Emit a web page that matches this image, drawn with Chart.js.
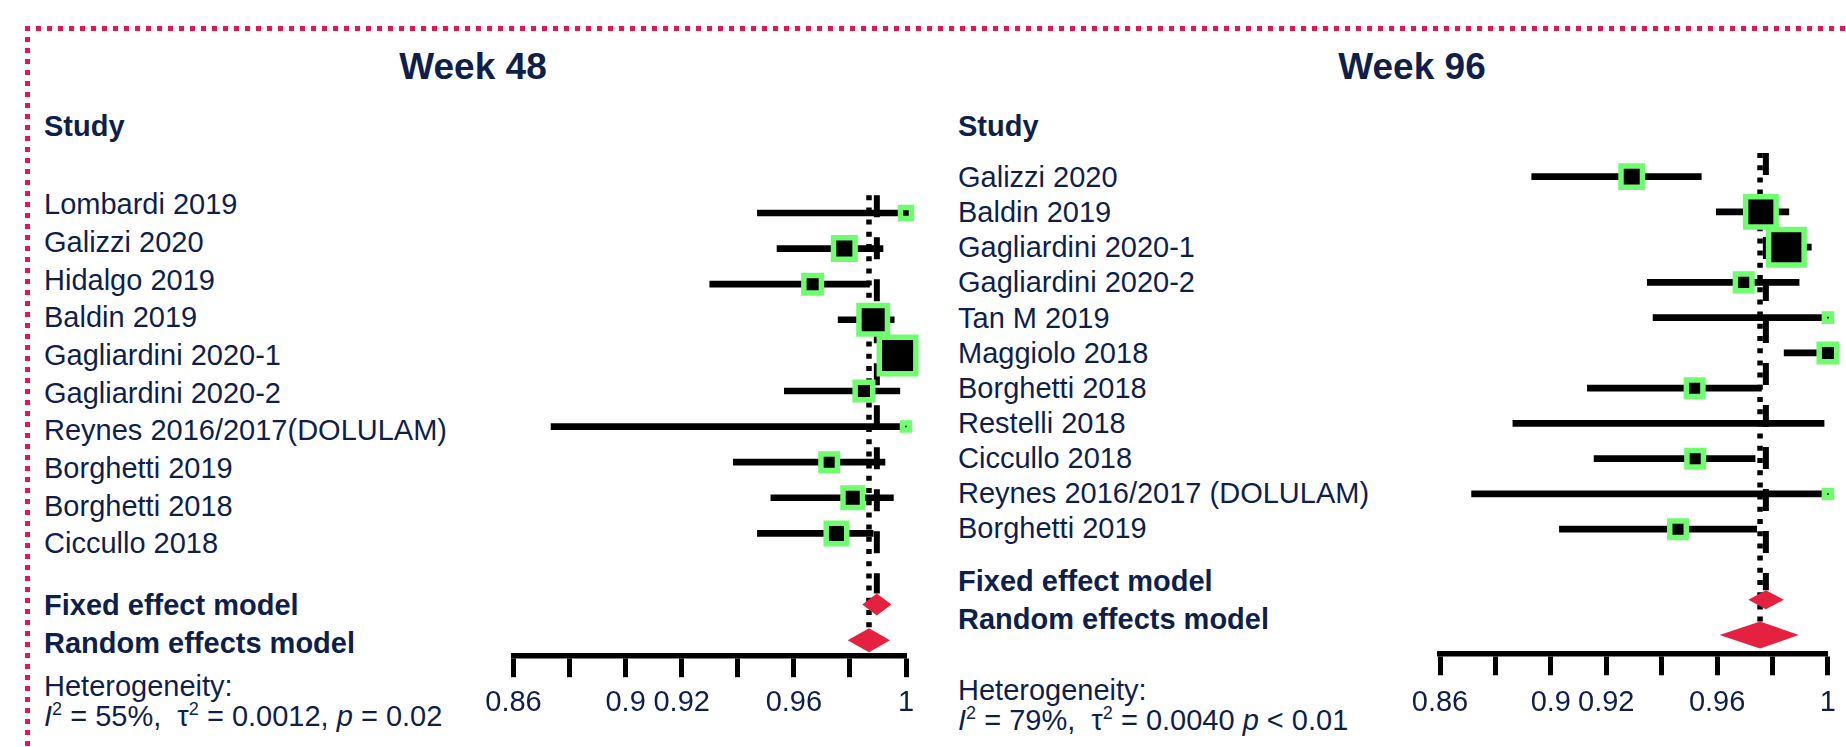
<!DOCTYPE html>
<html>
<head>
<meta charset="utf-8">
<script src="https://cdn.jsdelivr.net/npm/chart.js@4.4.1/dist/chart.umd.min.js"></script>
<style>
html,body{margin:0;padding:0;background:#fff;}
body{width:1846px;height:747px;position:relative;overflow:hidden;font-family:'Liberation Sans',Arial,Helvetica,sans-serif;color:#0F1F4A;}
.frame-top{position:absolute;left:25px;top:26px;width:1821px;height:5px;background:repeating-linear-gradient(to right,#E8134F 0 5.5px,transparent 5.5px 11px);}
.frame-left{position:absolute;left:25px;top:26px;width:5px;height:721px;background:repeating-linear-gradient(to bottom,#E8134F 0 5px,transparent 5px 11px);}
.title{position:absolute;width:400px;text-align:center;font-weight:bold;font-size:37px;line-height:50px;top:41.7px;white-space:nowrap;}
.txt{position:absolute;font-size:29px;line-height:40px;white-space:nowrap;}
.b{font-weight:bold;}
.list{position:absolute;font-size:29px;white-space:nowrap;}
sup{font-size:18px;line-height:0;vertical-align:11px;}
.cv{position:absolute;}
</style>
</head>
<body>
<div class="frame-top"></div>
<div class="frame-left"></div>

<div class="title" style="left:273px;">Week 48</div>
<div class="title" style="left:1212px;">Week 96</div>

<div class="txt b" style="left:44px;top:106px;">Study</div>
<div class="list" id="list48" style="left:44px;top:186.15px;line-height:37.7px;"></div>
<div class="txt b" id="fixed48" style="left:44px;top:585px;"></div>
<div class="txt b" id="random48" style="left:44px;top:623px;"></div>
<div class="txt" style="left:44px;top:666px;">Heterogeneity:</div>
<div class="txt" style="left:44px;top:696px;"><i>I</i><sup>2</sup> = 55%,&nbsp; τ<sup>2</sup> = 0.0012, <i>p</i> = 0.02</div>

<div class="txt b" style="left:958px;top:106px;">Study</div>
<div class="list" id="list96" style="left:958px;top:159.9px;line-height:35.15px;"></div>
<div class="txt b" id="fixed96" style="left:958px;top:561px;"></div>
<div class="txt b" id="random96" style="left:958px;top:599px;"></div>
<div class="txt" style="left:958px;top:670px;">Heterogeneity:</div>
<div class="txt" style="left:958px;top:700px;"><i>I</i><sup>2</sup> = 79%,&nbsp; τ<sup>2</sup> = 0.0040 <i>p</i> &lt; 0.01</div>

<canvas class="cv" id="c48" width="480" height="597" style="left:470px;top:150px;width:480px;height:597px;"></canvas>
<canvas class="cv" id="c96" width="446" height="637" style="left:1400px;top:110px;width:446px;height:637px;"></canvas>

<script>
// ---------- data ----------
const tickValues = [0.86, 0.88, 0.90, 0.92, 0.94, 0.96, 0.98, 1.00];
const tickLabels = ['0.86', '', '0.9', '0.92', '', '0.96', '', '1'];
const pooledNames = ['Fixed effect model', 'Random effects model'];

// Week 48
const studies48 = ['Lombardi 2019', 'Galizzi 2020', 'Hidalgo 2019', 'Baldin 2019', 'Gagliardini 2020-1',
  'Gagliardini 2020-2', 'Reynes 2016/2017(DOLULAM)', 'Borghetti 2019', 'Borghetti 2018', 'Ciccullo 2018'];
const est48    = [1.000, 0.978, 0.9667, 0.9883, 0.997, 0.985, 1.000, 0.9726, 0.981, 0.9752];
const lower48  = [0.947, 0.954, 0.930, 0.9758, 0.9905, 0.9566, 0.8734, 0.9384, 0.9518, 0.947];
const upper48  = [1.000, 0.9918, 0.987, 0.9958, 1.000, 0.9978, 1.000, 0.9925, 0.9955, 0.9883];
const weight48 = [2.7, 10.4, 6.9, 18.2, 29.9, 6.9, 1.1, 6.1, 8.5, 9.4];
const pooledEst48   = [0.9896, 0.9868];
const pooledLower48 = [0.9844, 0.9792];
const pooledUpper48 = [0.9948, 0.9943];

// Week 96
const studies96 = ['Galizzi 2020', 'Baldin 2019', 'Gagliardini 2020-1', 'Gagliardini 2020-2', 'Tan M 2019',
  'Maggiolo 2018', 'Borghetti 2018', 'Restelli 2018', 'Ciccullo 2018', 'Reynes 2016/2017 (DOLULAM)', 'Borghetti 2019'];
const est96    = [0.9292, 0.9758, 0.985, 0.9696, 1.000, 1.000, 0.9519, null, 0.9521, 1.000, 0.9459];
const lower96  = [0.8931, 0.9597, 0.977, 0.9348, 0.9369, 0.9842, 0.9132, 0.8863, 0.9156, 0.8714, 0.9031];
const upper96  = [0.9543, 0.9859, 0.994, 0.9896, 1.000, 1.000, 0.976, 0.9986, 0.9737, 1.000, 0.9743];
const weight96 = [11.1, 22.4, 30.4, 6.6, 1.2, 7.4, 6.6, 0, 6.6, 1.2, 6.6];
const pooledEst96   = [0.9776, 0.9755];
const pooledLower96 = [0.9713, 0.9609];
const pooledUpper96 = [0.9841, 0.9895];

// ---------- text ----------
function fillList(id, names) {
  const el = document.getElementById(id);
  names.forEach(n => { const d = document.createElement('div'); d.textContent = n; el.appendChild(d); });
}
fillList('list48', studies48);
fillList('list96', studies96);
document.getElementById('fixed48').textContent = pooledNames[0];
document.getElementById('random48').textContent = pooledNames[1];
document.getElementById('fixed96').textContent = pooledNames[0];
document.getElementById('random96').textContent = pooledNames[1];

// ---------- chart ----------
const FONT = "'Liberation Sans', Arial, Helvetica, sans-serif";
const NAVY = '#0F1F4A';
const GREEN = '#6FFC6F';
const RED = '#E4213F';

const forestPlugin = {
  id: 'forest',
  beforeDatasetsDraw(chart, args, o) {
    const { ctx, chartArea, scales: { x, y } } = chart;
    o.refs.forEach(r => {
      const px = x.getPixelForValue(r.value);
      ctx.save();
      ctx.strokeStyle = '#000';
      ctx.lineWidth = r.width;
      ctx.lineCap = 'butt';
      ctx.setLineDash(r.dash);
      ctx.beginPath();
      ctx.moveTo(px, chartArea.top);
      ctx.lineTo(px, y.getPixelForValue(r.row) - r.gap);
      ctx.stroke();
      ctx.restore();
    });
  },
  afterDatasetsDraw(chart, args, o) {
    const { ctx, scales: { x, y } } = chart;
    o.diamonds.forEach(dm => {
      const yc = y.getPixelForValue(dm.row);
      const xl = x.getPixelForValue(dm.lo), xr = x.getPixelForValue(dm.hi), xc = x.getPixelForValue(dm.est);
      ctx.save();
      ctx.fillStyle = RED;
      ctx.beginPath();
      ctx.moveTo(xl, yc);
      ctx.lineTo(xc, yc - dm.half);
      ctx.lineTo(xr, yc);
      ctx.lineTo(xc, yc + dm.half);
      ctx.closePath();
      ctx.fill();
      ctx.restore();
    });
  }
};

function forest(canvasId, d, L) {
  const n = d.studies.length;
  const rows = d.studies.map((_, i) => i + 1);
  const pooledRows = [n + 2, n + 3];
  return new Chart(document.getElementById(canvasId), {
    type: 'bar',
    data: {
      datasets: [
        {
          type: 'bar',
          data: rows.map((r, i) => ({ y: r, x: [d.lower[i], d.upper[i]] })),
          backgroundColor: '#000',
          borderWidth: 0,
          barThickness: 6,
          order: 2
        },
        {
          type: 'scatter',
          data: rows.map((r, i) => ({ y: r, x: d.est[i] })),
          pointStyle: 'rect',
          pointRadius: ctx => (L.squareScale * Math.sqrt(d.weight[ctx.dataIndex] || 0)) / Math.SQRT2,
          pointBackgroundColor: '#000',
          pointBorderColor: GREEN,
          pointBorderWidth: 5.5,
          clip: false,
          order: 1
        }
      ]
    },
    options: {
      responsive: false,
      animation: false,
      events: [],
      indexAxis: 'y',
      layout: { padding: L.padding, autoPadding: false },
      plugins: {
        legend: { display: false },
        tooltip: { enabled: false },
        forest: {
          refs: [
            { value: d.pooledEst[0], row: pooledRows[0], gap: L.half[0], width: 6, dash: [22, 20] },
            { value: d.pooledEst[1], row: pooledRows[1], gap: L.half[1], width: 5.5, dash: [5, 7.2] }
          ],
          diamonds: pooledRows.map((r, k) => ({
            row: r, est: d.pooledEst[k], lo: d.pooledLower[k], hi: d.pooledUpper[k], half: L.half[k]
          }))
        }
      },
      scales: {
        x: {
          type: 'linear',
          position: 'bottom',
          offset: false,
          min: tickValues[0],
          max: tickValues[tickValues.length - 1],
          afterBuildTicks: s => { s.ticks = tickValues.map(v => ({ value: v })); },
          afterFit: s => { s.height = L.axisHeight; },
          grid: { offset: false, drawOnChartArea: false, drawTicks: true, tickLength: L.tickLength, tickWidth: 5, tickColor: '#000', color: '#000' },
          border: { display: true, width: 5.5, color: '#000' },
          ticks: {
            autoSkip: false, maxRotation: 0, minRotation: 0, padding: L.tickPadding,
            color: NAVY, font: { family: FONT, size: 29 },
            callback: (v, i) => tickLabels[i]
          }
        },
        y: { type: 'linear', display: false, reverse: true, offset: false, grid: { offset: false }, min: L.yMin, max: L.yMax }
      }
    },
    plugins: [forestPlugin]
  });
}

forest('c48', {
  studies: studies48, est: est48, lower: lower48, upper: upper48, weight: weight48,
  pooledEst: pooledEst48, pooledLower: pooledLower48, pooledUpper: pooledUpper48
}, {
  padding: { left: 43.5, right: 44, top: 45.2, bottom: 0 },
  axisHeight: 90.8, yMin: 0.5, yMax: 13.45, tickLength: 21, tickPadding: 8,
  squareScale: 6.68, half: [11, 12]
});

forest('c96', {
  studies: studies96, est: est96, lower: lower96, upper: upper96, weight: weight96,
  pooledEst: pooledEst96, pooledLower: pooledLower96, pooledUpper: pooledUpper96
}, {
  padding: { left: 40, right: 16, top: 43, bottom: 0 },
  axisHeight: 93.7, yMin: 0.33, yMax: 14.52, tickLength: 22, tickPadding: 10,
  squareScale: 6.44, half: [9.5, 13.5]
});
</script>
</body>
</html>
